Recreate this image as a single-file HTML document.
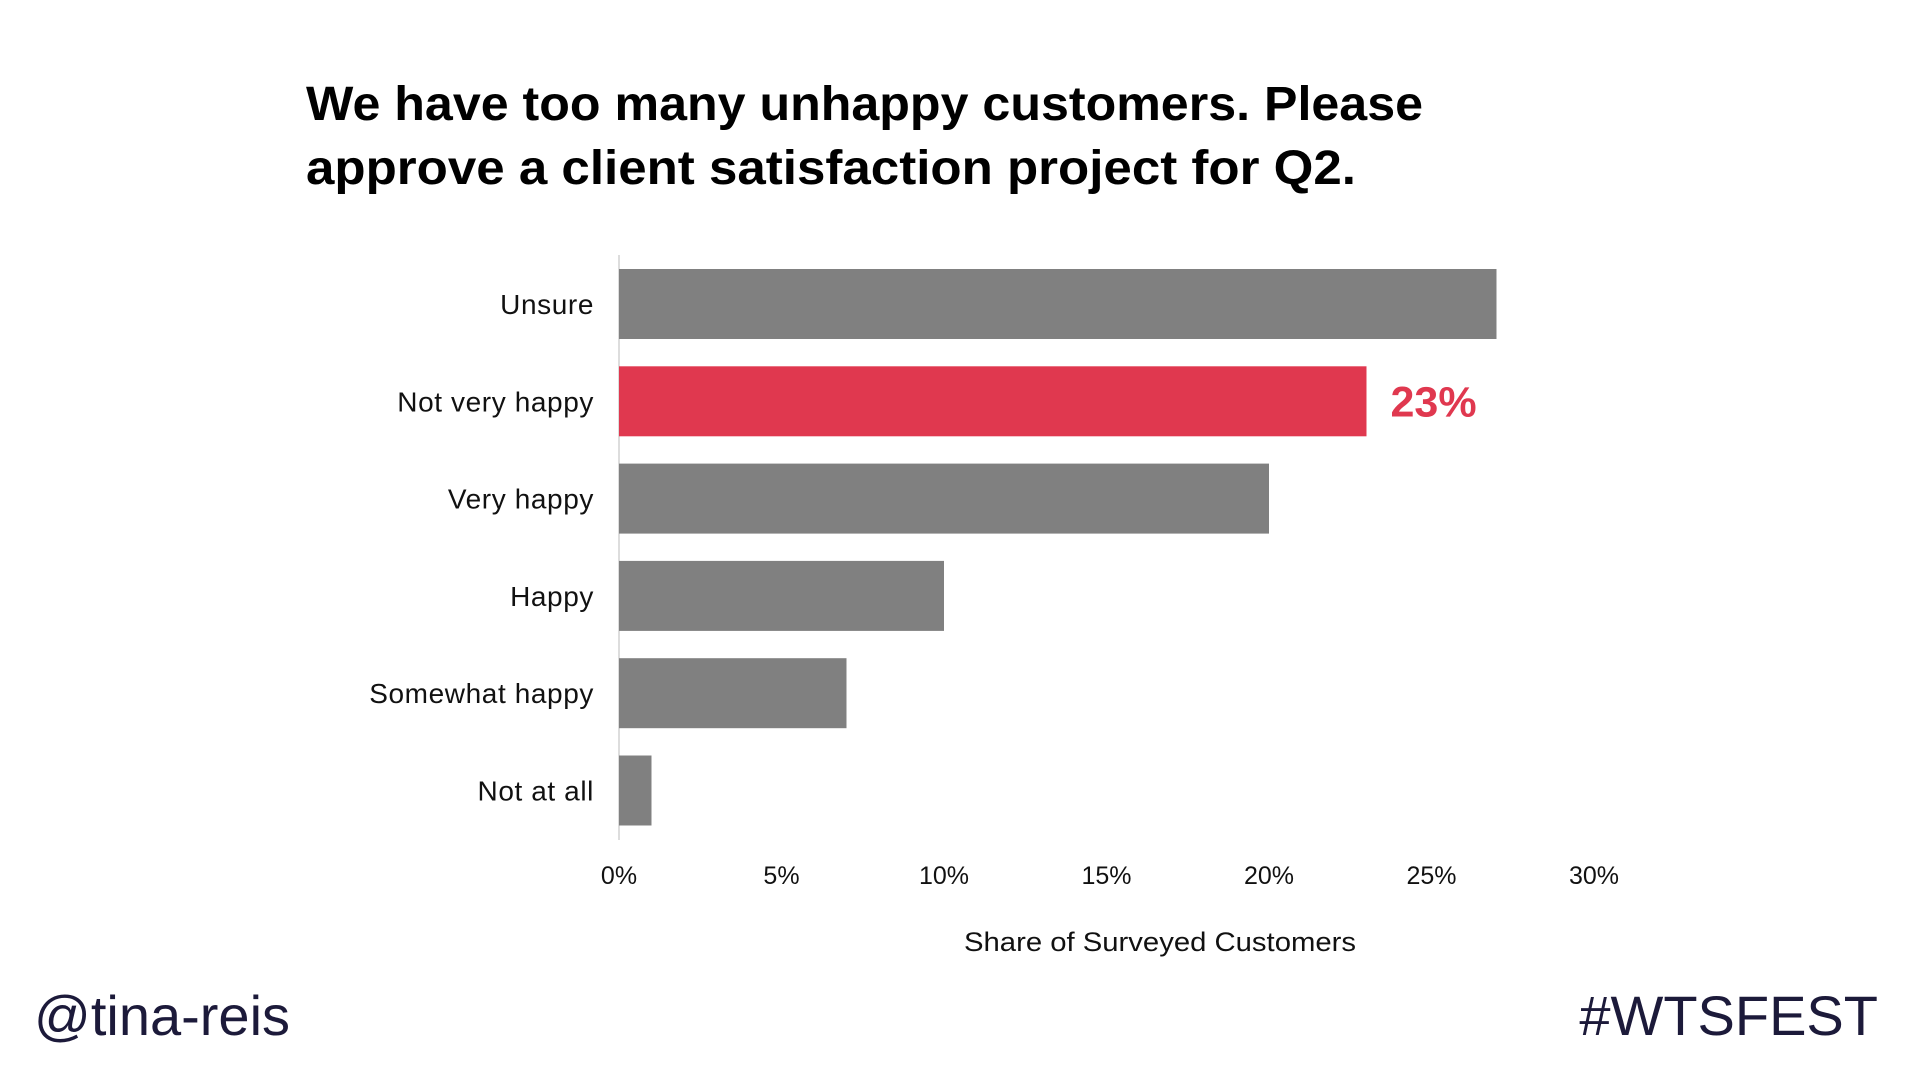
<!DOCTYPE html>
<html><head><meta charset="utf-8"><style>
body{margin:0;background:#fff;width:1920px;height:1080px;overflow:hidden}
svg{display:block}
text{font-family:"Liberation Sans",sans-serif}
</style></head><body>
<svg id="chart" width="1920" height="1080">
<text x="306" y="120" font-size="48" font-weight="bold" fill="#000" textLength="1117" lengthAdjust="spacingAndGlyphs">We have too many unhappy customers. Please</text>
<text x="306" y="184" font-size="48" font-weight="bold" fill="#000" textLength="1050" lengthAdjust="spacingAndGlyphs">approve a client satisfaction project for Q2.</text>
<line x1="619" y1="255" x2="619" y2="840" stroke="#ddd" stroke-width="2"/>
<g id="bars"></g>
<g id="ticks"></g>
<text x="1160" y="951" font-size="27" text-anchor="middle" fill="#111" textLength="392" lengthAdjust="spacingAndGlyphs">Share of Surveyed Customers</text>
<text x="34" y="1035" font-size="56" fill="#1c1a3a">@tina-reis</text>
<text x="1878" y="1035" font-size="56" fill="#1c1a3a" text-anchor="end">#WTSFEST</text>
</svg>
<script>
const categories=["Unsure","Not very happy","Very happy","Happy","Somewhat happy","Not at all"];
const values=[27,23,20,10,7,1];
const highlight=[false,true,false,false,false,false];
const tickValues=[0,5,10,15,20,25,30];
const tickLabels=["0%","5%","10%","15%","20%","25%","30%"];
const NS="http://www.w3.org/2000/svg";
const x=v=>619+v*32.5;
const y=i=>269+i*97.3;
const bh=70;
const bars=document.getElementById('bars');
categories.forEach((c,i)=>{
  const r=document.createElementNS(NS,'rect');
  r.setAttribute('x',x(0));r.setAttribute('y',y(i));
  r.setAttribute('width',x(values[i])-x(0));r.setAttribute('height',bh);
  r.setAttribute('fill',highlight[i]?'#e0384f':'#808080');
  
  
  bars.appendChild(r);
  const t=document.createElementNS(NS,'text');
  t.setAttribute('x',594);t.setAttribute('y',y(i)+bh/2+10);
  t.setAttribute('text-anchor','end');t.setAttribute('font-size','28');t.setAttribute('fill','#111');
  t.setAttribute('letter-spacing','0.6');
  t.textContent=c;
  
  
  bars.appendChild(t);
  if(highlight[i]){
    const v=document.createElementNS(NS,'text');
    v.setAttribute('x',x(values[i])+24);v.setAttribute('y',y(i)+bh/2+15);
    v.setAttribute('font-size','43');v.setAttribute('font-weight','bold');v.setAttribute('fill','#e0384f');
    v.textContent=values[i]+'%';
    
    
    bars.appendChild(v);
  }
});
const ticks=document.getElementById('ticks');
tickValues.forEach((v,i)=>{
  const t=document.createElementNS(NS,'text');
  t.setAttribute('x',x(v));t.setAttribute('y',884);
  t.setAttribute('text-anchor','middle');t.setAttribute('font-size','25');t.setAttribute('fill','#111');
  t.textContent=tickLabels[i];
  
  
  ticks.appendChild(t);
});
</script>
</body></html>
